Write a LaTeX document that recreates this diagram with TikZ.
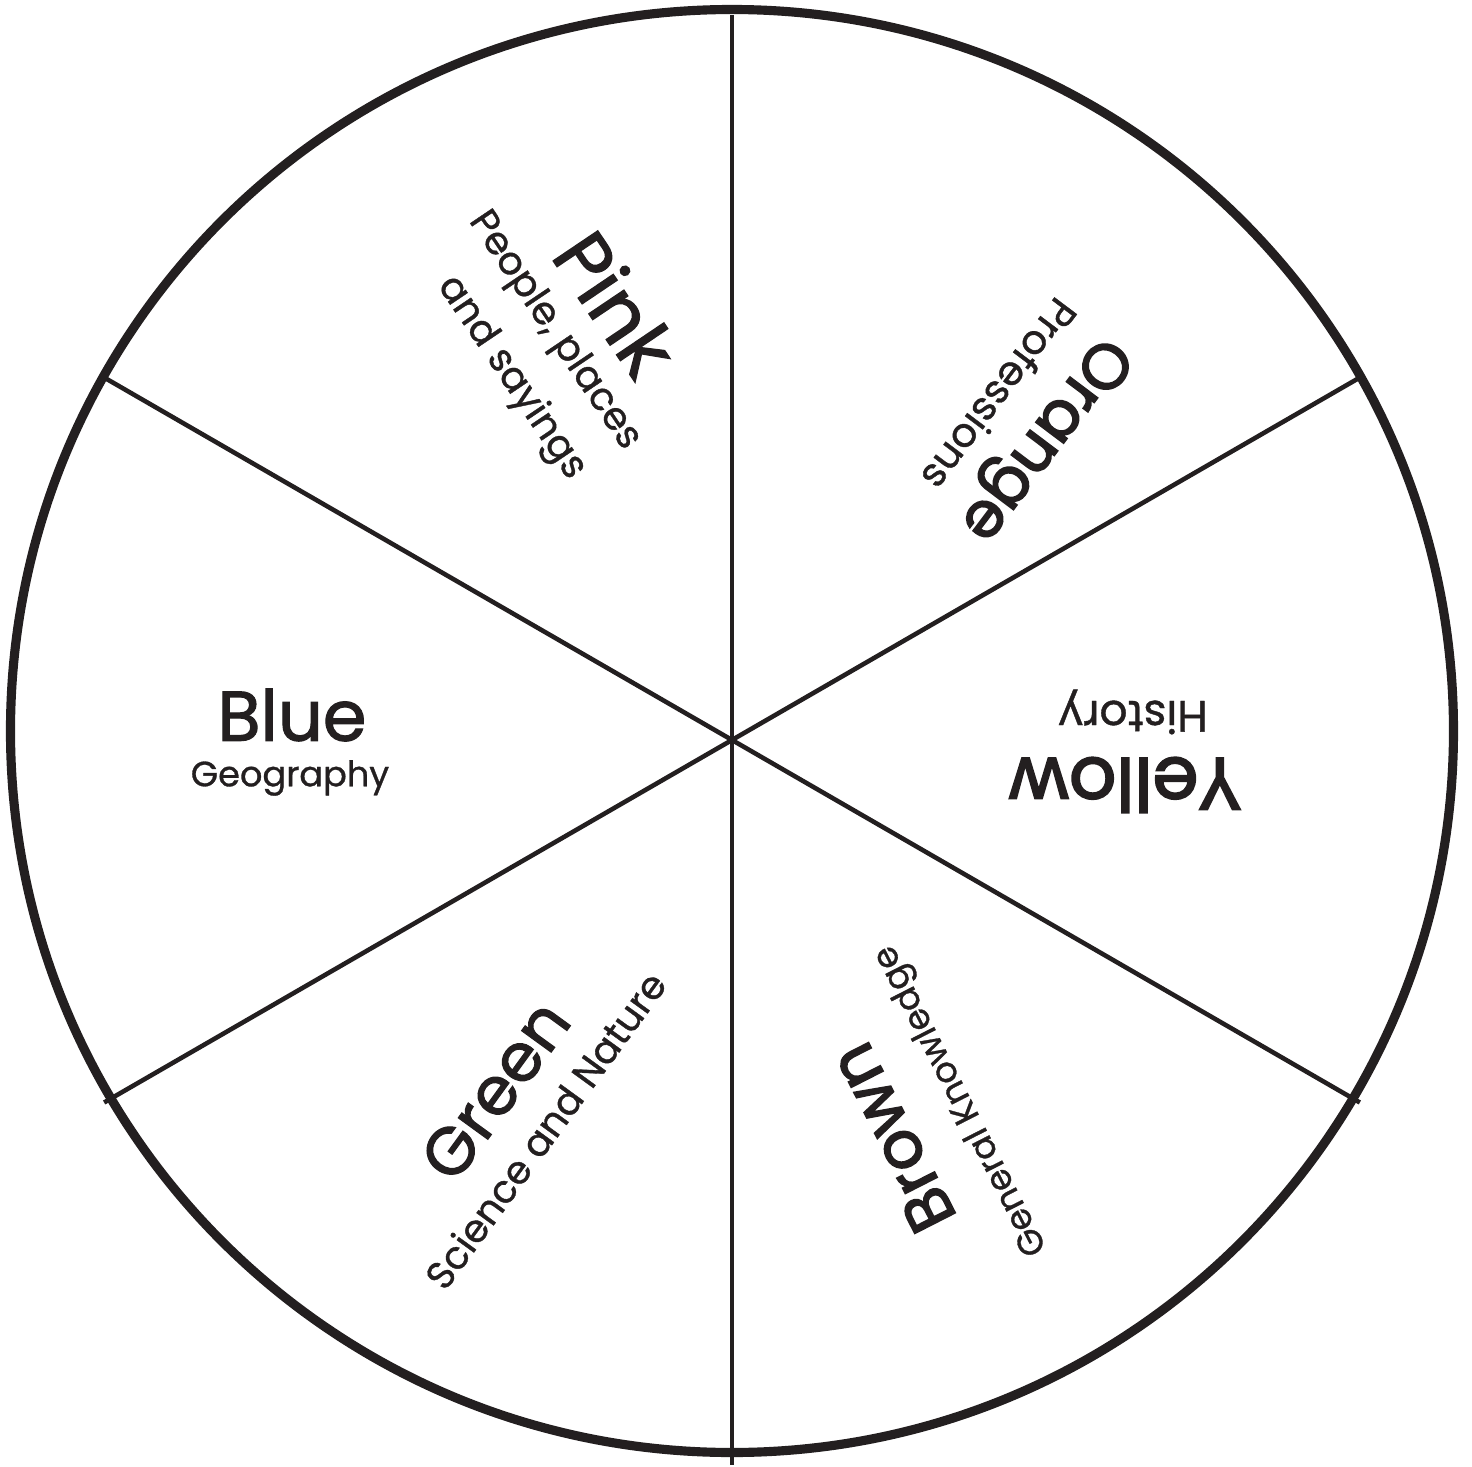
\documentclass[tikz,border=0pt]{standalone}
\usepackage{fontspec}
\setmainfont{Poppins}
\newfontfamily\namefont{Poppins}[FakeBold=1.6]
\newfontfamily\heavyfont{Poppins}[FakeBold=2.6]
\newfontfamily\subfont{Poppins}[FakeBold=0.9]
\definecolor{ink}{RGB}{35,31,32}

\tikzset{
  rim/.style={draw=ink, line width=2.6pt},
  spoke/.style={draw=ink, line width=1.3pt},
  catname/.style={text=ink, inner sep=0pt, font=\namefont\fontsize{20}{22}\selectfont},
  catheavy/.style={text=ink, inner sep=0pt, font=\heavyfont\fontsize{20}{22}\selectfont},
  catsub/.style={text=ink, inner sep=0pt, font=\subfont\fontsize{11}{12}\selectfont},
}

\begin{document}
\begin{tikzpicture}
  \useasboundingbox (-7.32,-7.26) rectangle (7.40,7.40);
  \coordinate (hub) at (0,0);
  % rim of the wheel, a little above the hub
  \draw[rim] (0,0.09) circle (7.215);
  % six spokes
  \foreach \a in {30,90,...,330}
    \draw[spoke] (hub) -- (\a:7.25) coordinate (end\a);

  \node[catname] (blue) at (-4.40,0.25) {Blue};
  \node[catsub, font=\subfont\fontsize{10}{12}\selectfont] (geography) at (-4.42,-0.38) {Geography};

  \node[catname, rotate=-56, font=\namefont\fontsize{22}{24}\selectfont] (pink) at (-1.15,4.37) {Pink};
  \node[catsub, rotate=-56] (people) at (-1.78,4.09) {People, places};
  \node[catsub, rotate=-56] (sayings) at (-2.21,3.62) {and sayings};

  \node[catheavy, rotate=233, font=\heavyfont\fontsize{18}{20}\selectfont] (orange) at (3.10,3.03) {Orange};
  \node[catsub, rotate=233, font=\subfont\fontsize{11.5}{13}\selectfont] (professions) at (2.68,3.45) {Professions};

  \node[catheavy, rotate=180, font=\heavyfont\fontsize{21}{23}\selectfont] (yellow) at (3.93,-0.45) {Yellow};
  \node[catsub, rotate=180, font=\subfont\fontsize{12.5}{14}\selectfont] (history) at (4.01,0.28) {History};

  \node[catheavy, rotate=117, font=\heavyfont\fontsize{18.5}{20}\selectfont] (brown) at (1.60,-3.98) {Brown};
  \node[catsub, rotate=117, font=\subfont\fontsize{10}{12}\selectfont] (general) at (2.30,-3.60) {General Knowledge};

  \node[catname, rotate=54, font=\namefont\fontsize{19}{21}\selectfont] (green) at (-2.37,-3.50) {Green};
  \node[catsub, rotate=54] (science) at (-1.87,-3.90) {Science and Nature};
\end{tikzpicture}
\end{document}
